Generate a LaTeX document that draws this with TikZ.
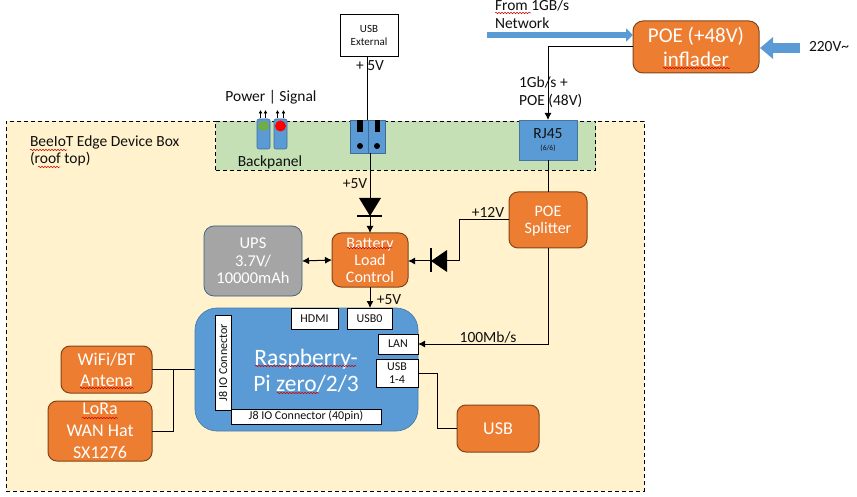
\documentclass[tikz,border=0pt]{standalone}
\usepackage{fontspec}
\setmainfont{Carlito}
\usetikzlibrary{arrows.meta,decorations.pathmorphing}
\definecolor{oran}{HTML}{ED7D31}
\definecolor{blu}{HTML}{5B9BD5}
\definecolor{yel}{HTML}{FFF2CC}
\definecolor{grn}{HTML}{C5E0B4}
\definecolor{gry}{HTML}{A5A5A5}
\definecolor{ink}{HTML}{101010}
\definecolor{ledg}{HTML}{70AD47}
\newcommand{\fs}[1]{\fontsize{#1}{#1}\selectfont}
\tikzset{
  x=1pt,y=-1pt,
  every node/.style={inner sep=0pt,outer sep=0pt,align=center,text=ink},
  lab/.style={font=\fs{15.5}},
  labl/.style={font=\fs{15.5},anchor=west,align=left},
  orbox/.style={draw=black!45!oran,line width=1pt,fill=oran,rounded corners=9pt,text=white,font=\fs{18},text depth=0pt},
  whbox/.style={draw=black,line width=0.7pt,fill=white,font=\fs{12}},
  conn/.style={draw=black,line width=1pt},
  arr/.style={conn,-{Latex[length=7pt,width=7pt]}},
  darr/.style={conn,{Latex[length=7pt,width=7pt]}-{Latex[length=7pt,width=7pt]}},
  fatarr/.style={draw=blu,line width=6pt,-{Triangle[length=7pt,width=13pt]}},
  fatarrb/.style={draw=blu,line width=10pt,-{Triangle[length=13pt,width=21pt]}},
  dashbox/.style={draw=black,line width=0.8pt,dash pattern=on 4pt off 3pt},
  spell/.style={draw=red!80!black,line width=0.5pt,decorate,decoration={snake,amplitude=0.7pt,segment length=3pt}},
  tiny arrow/.style={draw=black,line width=0.8pt,-{Latex[length=3.5pt,width=4pt]}},
  jack/.style={draw=blu!70!black,line width=0.6pt,fill=blu,rounded corners=2pt}
}
\begin{document}
\begin{tikzpicture}
\useasboundingbox (0,0) rectangle (857,497);
% boxes as areas
\node[dashbox,fill=yel,minimum width=638pt,minimum height=370pt] (device) at (325,306) {};
\node[dashbox,fill=grn,minimum width=380pt,minimum height=49pt] (panel) at (405.5,145.5) {};
% top
\node[draw=black,line width=0.8pt,fill=white,minimum width=58pt,minimum height=42pt,font=\fs{11},text=ink] (usbext) at (369,35) {USB\\[2pt]External};
\node[orbox,font=\fs{21},minimum width=126pt,minimum height=52pt,rounded corners=10pt] (inflader) at (696,47) {POE (+48V)\\[3pt]inflader};
\coordinate (netfrom) at (487,35);
\coordinate (netto) at (633,35);
\coordinate (acfrom) at (800,48);
\coordinate (acto) at (760,48);
\draw[fatarr] (netfrom) -- (netto);
\draw[fatarrb] (acfrom) -- (acto);
\node[labl] (lnet) at (495,14) {From 1GB/s\\[2pt]Network};
\node[labl] (lac) at (809,47) {220V\textasciitilde};
\node[draw=blu!75!black,line width=0.8pt,fill=blu,minimum width=58pt,minimum height=40pt] (rj) at (548,140) {};
\node[font=\fs{15.5}] (rjt) at (548,134) {RJ45};
\node[font=\fs{7.5}] (rjs) at (548,148) {(6/6)};
\node[labl] (lgb) at (519,92) {1Gb/s +\\[2pt]POE (48V)};
% connector jacks
\node[draw=blu!70!black,line width=0.6pt,fill=blu,minimum width=18pt,minimum height=33pt] (jl) at (359,136.5) {};
\node[draw=blu!70!black,line width=0.6pt,fill=blu,minimum width=17pt,minimum height=33pt] (jr) at (376.5,136.5) {};
\fill[black] (357,120) rectangle (363,132);
\fill[black] (375,120) rectangle (380,132);
\fill[black] (360,146) circle (3pt);
\fill[black] (377,146) circle (3pt);
% backpanel LEDs
\node[jack,minimum width=13pt,minimum height=30pt] (jg) at (263.5,134) {};
\node[jack,minimum width=13pt,minimum height=30pt] (jp) at (280.5,134) {};
\fill[ledg] (263.5,126) ellipse (5.5pt and 5pt);
\fill[red] (280.5,126) ellipse (5.5pt and 5.5pt);
\draw[tiny arrow] (260.5,118) -- (260.5,110);
\draw[tiny arrow] (265.5,118) -- (265.5,110);
\draw[tiny arrow] (277.5,118) -- (277.5,110);
\draw[tiny arrow] (283.5,118) -- (283.5,110);
\node[lab] (lps) at (271,97) {Power | Signal};
\node[lab] (lbp) at (270,162) {Backpanel};
\node[labl] (lbee) at (30,151) {BeeIoT Edge Device Box\\[2pt](roof top)};
% orange boxes
\node[orbox,font=\fs{16},minimum width=78pt,minimum height=56pt] (split) at (548,220) {POE\\[1pt]Splitter};
\node[orbox,font=\fs{16},minimum width=76pt,minimum height=54pt] (batt) at (370,260) {Battery\\[1pt]Load\\[1pt]Control};
\node[draw=blu!60!black,line width=0.7pt,fill=gry,rounded corners=10pt,minimum width=98pt,minimum height=70pt,text=white,font=\fs{16.5}] (ups) at (253,261) {UPS\\[1pt]3.7V/\\[1pt]10000mAh};
% Pi
\node[draw=blu!80!black,line width=0.7pt,fill=blu,rounded corners=22pt,minimum width=223pt,minimum height=123pt] (pi) at (306.5,369.5) {};
\node[text=white,font=\fs{23.5}] (pit) at (306,371) {Raspberry-\\[3pt]Pi zero/2/3};
\node[whbox,minimum width=47pt,minimum height=21pt] (hdmi) at (314.5,318.5) {HDMI};
\node[whbox,minimum width=45pt,minimum height=21pt] (usb0) at (369.5,318.5) {USB0};
\node[whbox,minimum width=40pt,minimum height=20pt] (lan) at (398,344) {LAN};
\node[whbox,minimum width=42pt,minimum height=28pt] (usb14) at (397,373) {USB\\[1pt]1-4};
\node[whbox,minimum width=16pt,minimum height=95pt] (j8v) at (223,362.5) {\rotatebox{90}{J8 IO Connector}};
\node[whbox,minimum width=150pt,minimum height=15pt] (j8h) at (306,416.5) {J8 IO Connector (40pin)};
\node[orbox,minimum width=82pt,minimum height=47pt] (usb) at (498,428.5) {USB};
\node[orbox,minimum width=91pt,minimum height=47pt] (wifi) at (106.5,369.5) {WiFi/BT\\[3pt]Antena};
\node[orbox,minimum width=104pt,minimum height=60pt] (lora) at (100,431) {LoRa\\[4pt]WAN Hat\\[4pt]SX1276};
% connectors
\coordinate (jtop) at (367,120);
\coordinate (jbot) at (370,153);
\coordinate (dvtop) at (370,198);
\coordinate (dvbar) at (370,216);
\coordinate (dhbar) at (431,261);
\coordinate (dhbase) at (447,261);
\draw[conn] (usbext.south -| jtop) -- (jtop);
\draw[conn] (jbot) -- (dvtop);
\fill[black] (359,198) -- (381,198) -- (dvbar) -- cycle;
\draw[black,line width=1.2pt] (357,216) -- (382,216);
\draw[arr] (dvbar) -- (dvbar |- batt.north);
\draw[black,line width=1.2pt] (431,248) -- (431,272);
\fill[black] (dhbar) -- (447,250) -- (447,272) -- cycle;
\draw[arr] (dhbar) -- (batt.east |- dhbar);
\draw[conn] (split.west) -- (459,220) -- (459,261) -- (dhbase);
\draw[darr] (ups.east) -- (batt.west);
\draw[arr] (batt.south) -- (batt.south |- usb0.north);
\draw[conn] (rj.south) -- (split.north);
\draw[arr] (inflader.west) -- (rj.north |- inflader.west) -- (rj.north);
\draw[arr] (split.south) -- (split.south |- lan.east) -- (lan.east);
\draw[conn] (usb14.east) -- (437,373) -- (437,428.5) -- (usb.west);
\draw[conn] (wifi.east) -- (pi.west |- wifi.east);
\draw[conn] (lora.east) -- (173,431) -- (173,369.5);
% connector labels
\node[lab] (l5a) at (370,66) {+ 5V};
\node[lab] (l5b) at (355,184) {+5V};
\node[lab] (l12) at (488,212) {+12V};
\node[lab] (l5c) at (389,300) {+5V};
\node[lab] (l100) at (488,337) {100Mb/s};
% spelling marks
\draw[spell] (495,13) -- (531,13);
\draw[spell] (30,150) -- (67,150);
\draw[spell] (38,167) -- (60,167);
\draw[spell] (663,68) -- (730,68);
\draw[spell] (347,248) -- (392,248);
\draw[spell] (255,366) -- (356,366);
\draw[spell] (277,393) -- (319,393);
\draw[spell] (80,388) -- (134,388);
\draw[spell] (82,418) -- (118,418);
\end{tikzpicture}
\end{document}
